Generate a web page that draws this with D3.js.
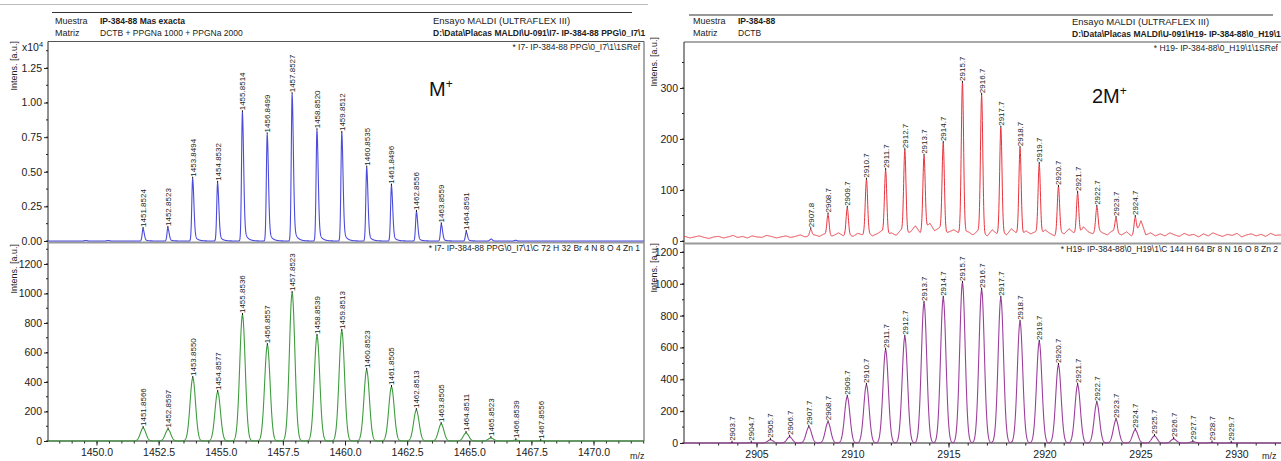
<!DOCTYPE html>
<html><head><meta charset="utf-8">
<script src="https://cdn.jsdelivr.net/npm/d3@7"></script>
<style>body{margin:0;background:#fff;} svg{display:block;font-family:"Liberation Sans",Arial,sans-serif;}</style>
</head><body><svg id="c" width="1281" height="461"></svg>
<script>
// ---------------- DATA ----------------
// Left panel, top: experimental M+ (intensity in x10^4 a.u.)
const mExpLabels = ["1451.8524","1452.8523","1453.8494","1454.8532","1455.8514","1456.8499","1457.8527","1458.8520","1459.8512","1460.8535","1461.8496","1462.8556","1463.8559","1464.8591"];
const mExpInt = [0.087,0.094,0.45,0.42,0.93,0.77,1.06,0.80,0.78,0.53,0.40,0.21,0.12,0.065];
const mExpMinorMz = [1449.55,1450.45,1465.86,1466.85];
const mExpMinorInt = [0.004,0.004,0.014,0.005];
// Left panel, bottom: simulated M+
const mSimLabels = ["1451.8566","1452.8597","1453.8550","1454.8577","1455.8536","1456.8557","1457.8523","1458.8539","1459.8513","1460.8523","1461.8505","1462.8513","1463.8505","1464.8511","1465.8523","1466.8539","1467.8556"];
const mSimInt = [88,78,427,332,854,650,1003,712,746,481,366,210,115,54,20,6,2];
// Right panel, top: experimental 2M+
const dExpLabels = ["2907.8","2908.7","2909.7","2910.7","2911.7","2912.7","2913.7","2914.7","2915.7","2916.7","2917.7","2918.7","2919.7","2920.7","2921.7","2922.7","2923.7","2924.7"];
const dExpInt = [23,52,65,120,139,178,167,192,310,286,222,182,151,106,94,67,45,47];
const dNoiseStart = 2901, dNoiseStep = 0.25;
const dNoise = [7,9,6,8,10,7,5,8,9,6,8,11,7,9,6,10,8,7,11,9,6,8,10,7,9,12,8,10,
 12,9,14,8,11,16,10,13,9,15,12,18,10,14,20,12,16,11,22,14,18,30,16,24,35,20,26,14,18,22,16,20,
 18,12,20,15,10,22,14,18,12,24,16,10,20,14,18,12,22,15,10,18,14,24,16,12,28,18,14,22,16,12,20,15,12,18,10,14,40,12,16,10,
 14,10,16,12,9,15,11,13,8,14,10,16,12,9,13,11,15,8,12,14,10,13,9,15,11,12,8,13,10];
// Right panel, bottom: simulated 2M+
const dSimLabels = ["2903.7","2904.7","2905.7","2906.7","2907.7","2908.7","2909.7","2910.7","2911.7","2912.7","2913.7","2914.7","2915.7","2916.7","2917.7","2918.7","2919.7","2920.7","2921.7","2922.7","2923.7","2924.7","2925.7","2926.7","2927.7","2928.7","2929.7"];
const dSimInt = [1,2,20,38,100,130,290,365,585,667,880,912,1006,962,912,761,635,490,365,252,145,82,44,25,8,3,1];
// tick values
const mExpTicks = [0,0.25,0.5,0.75,1.0,1.25];
const mSimTicks = [0,200,400,600,800,1000,1200];
const mXTicks = [1450,1452.5,1455,1457.5,1460,1462.5,1465,1467.5,1470];
const dExpTicks = [0,100,200,300];
const dSimTicks = [0,200,400,600,800,1000,1200];
const dXTicks = [2905,2910,2915,2920,2925,2930];

// ---------------- DRAW ----------------
const svg = d3.select("#c");
const txt = "#222";

const gauss = (dx,s)=>Math.exp(-dx*dx/(2*s*s));
const blueShape = dx => dx<0 ? gauss(dx,0.035) : 0.85*gauss(dx,0.05)+0.15*Math.exp(-dx/0.12);

function spectrum(domain, step, f){
  const pts=[]; for(let m=domain[0]; m<=domain[1]+1e-9; m+=step) pts.push([m,f(m)]); return pts;
}
function noiseAt(m){
  const t=(m-dNoiseStart)/dNoiseStep; const i=Math.floor(t);
  if(i<0) return dNoise[0]; if(i>=dNoise.length-1) return dNoise[dNoise.length-1];
  const f=t-i; return dNoise[i]*(1-f)+dNoise[i+1]*f;
}

function header(g, x0, lineY, lineX0, lineX1, rows, rx, rrows){
  g.append("line").attr("x1",lineX0).attr("x2",lineX1).attr("y1",lineY).attr("y2",lineY).attr("stroke","#333").attr("stroke-width",1);
  rows.forEach((r,i)=>{
    g.append("text").attr("x",x0).attr("y",r.y).attr("font-size",9).attr("fill",txt).text(r.a);
    g.append("text").attr("x",x0+45).attr("y",r.y).attr("font-size",8.5).attr("fill",txt).attr("font-weight",r.bold?"bold":"normal").text(r.b);
  });
  rrows.forEach(r=>{
    g.append("text").attr("x",rx).attr("y",r.y).attr("font-size",r.bold?8.5:9.5).attr("font-weight",r.bold?"bold":"normal").attr("fill",txt).text(r.t);
  });
}

function yAxis(g, scale, x, ticks, fmt, minorStep, maxV){
  const ax = g.append("g").attr("transform",`translate(${x},0)`).call(d3.axisLeft(scale).tickValues(ticks).tickFormat(fmt).tickSize(4).tickPadding(2));
  ax.select(".domain").remove();
  ax.selectAll("text").attr("font-size",10.5).attr("fill",txt).attr("font-family","Liberation Sans, Arial, sans-serif");
  ax.selectAll("line").attr("stroke","#222");
  const minor = d3.range(0, maxV+1e-9, minorStep);
  g.selectAll(null).data(minor).enter().append("line").attr("x1",x-2).attr("x2",x).attr("y1",d=>scale(d)).attr("y2",d=>scale(d)).attr("stroke","#222");
}

function xAxis(g, scale, y, ticks, fmt, minorStep, dom){
  g.append("line").attr("x1",scale.range()[0]).attr("x2",scale.range()[1]).attr("y1",y).attr("y2",y).attr("stroke","#222");
  const minor = d3.range(Math.ceil(dom[0]/minorStep)*minorStep, dom[1], minorStep);
  g.selectAll(null).data(minor).enter().append("line").attr("x1",d=>scale(d)).attr("x2",d=>scale(d)).attr("y1",y).attr("y2",y+2.5).attr("stroke","#222");
  g.selectAll(null).data(ticks).enter().append("line").attr("x1",d=>scale(d)).attr("x2",d=>scale(d)).attr("y1",y).attr("y2",y+4.5).attr("stroke","#222");
  g.selectAll(null).data(ticks).enter().append("text").attr("x",d=>scale(d)).attr("y",y+14.5).attr("text-anchor","middle").attr("font-size",10.5).attr("fill",txt).text(fmt);
}

function peakLabels(g, labels, xs, yfn, fs){
  labels.forEach((l,i)=>{
    const x = xs(+l), y = yfn(i);
    g.append("line").attr("x1",x).attr("x2",x).attr("y1",y).attr("y2",y-2).attr("stroke","#111").attr("stroke-width",1);
    g.append("text").attr("transform",`translate(${x+3},${y-2}) rotate(-90)`).attr("font-size",fs).attr("fill","#222").text(l);
  });
}

svg.append("line").attr("x1",0).attr("x2",648).attr("y1",4.5).attr("y2",4.5).attr("stroke","#bbb");

// ===== LEFT PANEL =====
const L = svg.append("g");
const xL = d3.scaleLinear().domain([1450,1470]).range([97,594]);
const xLdom = [xL.invert(48), xL.invert(644)];
const xLr = d3.scaleLinear().domain(xLdom).range([48,644]);
const yLT = d3.scaleLinear().domain([0,1.25]).range([241,68]);
const yLB = d3.scaleLinear().domain([0,1200]).range([441,264]);

header(L, 55, 12.5, 52, 632,
  [{y:24,a:"Muestra",b:"IP-384-88  Mas exacta",bold:true},{y:36,a:"Matriz",b:"DCTB + PPGNa 1000 + PPGNa 2000",bold:false}],
  433, [{y:24,t:"Ensayo MALDI (ULTRAFLEX III)"},{y:36,t:"D:\\Data\\Placas MALDI\\U-091\\I7- IP-384-88  PPG\\0_I7\\1",bold:true}]);

L.append("line").attr("x1",48).attr("x2",644).attr("y1",41.5).attr("y2",41.5).attr("stroke","#555");
L.append("line").attr("x1",644).attr("x2",644).attr("y1",41.5).attr("y2",441).attr("stroke","#555");
L.append("line").attr("x1",48).attr("x2",48).attr("y1",41.5).attr("y2",441).attr("stroke","#222");
L.append("line").attr("x1",48).attr("x2",644).attr("y1",242.5).attr("y2",242.5).attr("stroke","#999").attr("stroke-width",2);

L.append("text").attr("x",640).attr("y",50).attr("text-anchor","end").attr("font-size",8.5).attr("fill",txt).text("* I7- IP-384-88  PPG\\0_I7\\1\\1SRef");
L.append("text").attr("x",640).attr("y",251).attr("text-anchor","end").attr("font-size",8.5).attr("fill",txt).text("* I7- IP-384-88  PPG\\0_I7\\1\\C 72 H 32 Br 4 N 8 O 4 Zn 1");

yAxis(L, yLT, 48, mExpTicks, d3.format(".2f"), 0.125, 1.375);
yAxis(L, yLB, 48, mSimTicks, d3.format("d"), 100, 1300);
L.append("text").attr("x",22).attr("y",51).attr("font-size",10.5).attr("fill",txt).html('x10<tspan dy="-4" font-size="7.5">4</tspan>');
L.append("text").attr("transform","translate(17,41) rotate(-90)").attr("text-anchor","end").attr("font-size",9).attr("fill",txt).text("Intens. [a.u.]");
L.append("text").attr("transform","translate(17,244) rotate(-90)").attr("text-anchor","end").attr("font-size",9).attr("fill",txt).text("Intens. [a.u.]");

xAxis(L, xLr, 441, mXTicks, d3.format(".1f"), 0.5, xLdom);
L.append("text").attr("x",630).attr("y",459).attr("font-size",9).attr("fill",txt).text("m/z");

const bluePts = spectrum(xLdom, 0.005, m=>{
  let v=0; mExpLabels.forEach((l,i)=>{const dx=m-(+l); if(Math.abs(dx)<1) v+=mExpInt[i]*blueShape(dx);});
  mExpMinorMz.forEach((c,i)=>{v+=mExpMinorInt[i]*gauss(m-c,0.05);});
  return v;
});
L.append("path").datum(bluePts).attr("fill","none").attr("stroke","#4b4bdc").attr("stroke-width",1.1)
  .attr("d",d3.line().x(d=>xLr(d[0])).y(d=>yLT(d[1])));
peakLabels(L, mExpLabels, xLr, i=>yLT(mExpInt[i]), 8);

const greenPts = spectrum(xLdom, 0.005, m=>{
  let v=0; mSimLabels.forEach((l,i)=>{const dx=m-(+l); if(Math.abs(dx)<1) v+=mSimInt[i]*gauss(dx,0.11);}); return v;
});
L.append("path").datum(greenPts).attr("fill","none").attr("stroke","#3f9c3f").attr("stroke-width",1.1)
  .attr("d",d3.line().x(d=>xLr(d[0])).y(d=>yLB(d[1])));
peakLabels(L, mSimLabels, xLr, i=>yLB(mSimInt[i]), 8);

L.append("text").attr("x",429).attr("y",96).attr("font-size",20).attr("fill","#111").html('M<tspan dy="-8" font-size="12">+</tspan>');

// ===== RIGHT PANEL =====
svg.append("clipPath").attr("id","rc").append("rect").attr("x",650).attr("y",0).attr("width",640).attr("height",461);
const R = svg.append("g").attr("clip-path","url(#rc)");
const xR = d3.scaleLinear().domain([2905,2930]).range([757,1237]);
const xRdom = [xR.invert(684), xR.invert(1295)];
const xRr = d3.scaleLinear().domain(xRdom).range([684,1295]);
const yRT = d3.scaleLinear().domain([0,300]).range([241,88]);
const yRB = d3.scaleLinear().domain([0,1200]).range([443,252]);

header(R, 693, 15, 689, 1273,
  [{y:24,a:"Muestra",b:"IP-384-88",bold:true},{y:36,a:"Matriz",b:"DCTB",bold:false}],
  1072, [{y:25,t:"Ensayo MALDI (ULTRAFLEX III)"},{y:37,t:"D:\\Data\\Placas MALDI\\U-091\\H19- IP-384-88\\0_H19\\1",bold:true}]);

R.append("line").attr("x1",684).attr("x2",1295).attr("y1",42).attr("y2",42).attr("stroke","#555");
R.append("line").attr("x1",684).attr("x2",684).attr("y1",42).attr("y2",443).attr("stroke","#222");
R.append("line").attr("x1",684).attr("x2",1295).attr("y1",243.5).attr("y2",243.5).attr("stroke","#999").attr("stroke-width",2);

R.append("text").attr("x",1278).attr("y",51).attr("text-anchor","end").attr("font-size",8.5).attr("fill",txt).text("* H19- IP-384-88\\0_H19\\1\\1SRef");
R.append("text").attr("x",1278).attr("y",252).attr("text-anchor","end").attr("font-size",8.5).attr("fill",txt).text("* H19- IP-384-88\\0_H19\\1\\C 144 H 64 Br 8 N 16 O 8 Zn 2");

yAxis(R, yRT, 684, dExpTicks, d3.format("d"), 50, 385);
yAxis(R, yRB, 684, dSimTicks, d3.format("d"), 100, 1250);
R.append("text").attr("transform","translate(657,37) rotate(-90)").attr("text-anchor","end").attr("font-size",9).attr("fill",txt).text("Intens. [a.u.]");
R.append("text").attr("transform","translate(657,243) rotate(-90)").attr("text-anchor","end").attr("font-size",9).attr("fill",txt).text("Intens. [a.u.]");

xAxis(R, xRr, 443, dXTicks, d3.format("d"), 1, xRdom);
R.append("text").attr("x",1262).attr("y",459).attr("font-size",9).attr("fill",txt).text("m/z");

const redPts = spectrum(xRdom, 0.01, m=>{
  let v=noiseAt(m); dExpLabels.forEach((l,i)=>{const dx=m-(+l); if(Math.abs(dx)<1) v+=Math.max(0,dExpInt[i]-noiseAt(+l))*gauss(dx,0.06);}); return v;
});
R.append("path").datum(redPts).attr("fill","none").attr("stroke","#e8323c").attr("stroke-width",1)
  .attr("d",d3.line().x(d=>xRr(d[0])).y(d=>yRT(d[1])));
peakLabels(R, dExpLabels, xRr, i=>yRT(Math.max(dExpInt[i],noiseAt(+dExpLabels[i]))), 8);

const purplePts = spectrum(xRdom, 0.01, m=>{
  let v=0; dSimLabels.forEach((l,i)=>{const dx=m-(+l); if(Math.abs(dx)<1.2) v+=dSimInt[i]*gauss(dx,0.14);}); return v;
});
R.append("path").datum(purplePts).attr("fill","none").attr("stroke","#9c3f9c").attr("stroke-width",1.1)
  .attr("d",d3.line().x(d=>xRr(d[0])).y(d=>yRB(d[1])));
peakLabels(R, dSimLabels, xRr, i=>yRB(dSimInt[i]), 8);

R.append("text").attr("x",1092).attr("y",103).attr("font-size",20).attr("fill","#111").html('2M<tspan dy="-8" font-size="12">+</tspan>');
</script></body></html>
